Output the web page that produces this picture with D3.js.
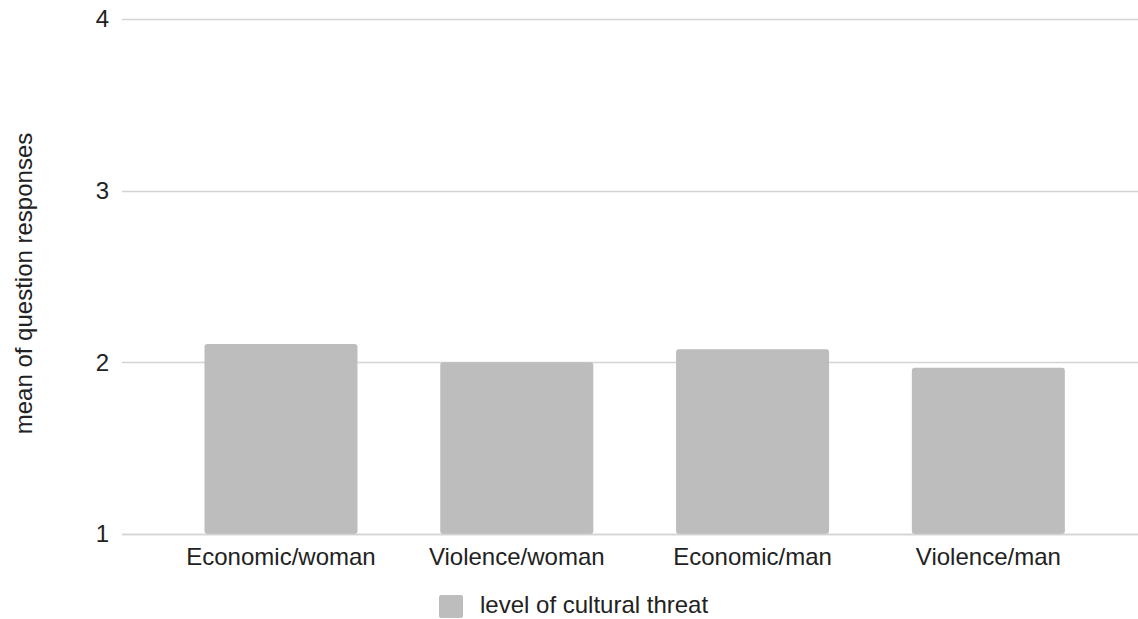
<!DOCTYPE html>
<html>
<head>
<meta charset="utf-8">
<script src="https://cdn.jsdelivr.net/npm/d3@7"></script>
<style>
  html, body { margin: 0; padding: 0; background: #fff; }
  svg { display: block; font-family: Arial, "Liberation Sans", Helvetica, sans-serif; }
</style>
</head>
<body>
<svg id="chart" width="1138" height="619"></svg>
<script>
// Mean question responses by scenario
const categories = ["Economic/woman", "Violence/woman", "Economic/man", "Violence/man"];
const values = [2.107, 2.0, 2.076, 1.969];
const yTicks = [1, 2, 3, 4];
const seriesName = "level of cultural threat";
const yTitle = "mean of question responses";

const svg = d3.select("#chart");
const plotLeft = 122, plotRight = 1138, plotTop = 19, plotBottom = 534;
const barColor = "#bdbdbd";
const gridColor = "#d4d4d4";
const textColor = "#222";
const fontSize = 24;

const x = d3.scaleBand()
  .domain(categories)
  .range([plotLeft, plotRight])
  .paddingInner(0.351)
  .paddingOuter(0.33)
  .align(0.53);

const y = d3.scaleLinear()
  .domain([1, 4])
  .range([plotBottom, plotTop]);

// horizontal gridlines
svg.append("g")
  .selectAll("line")
  .data(yTicks)
  .join("line")
  .attr("x1", plotLeft)
  .attr("x2", plotRight)
  .attr("y1", d => Math.round(y(d)) + 0.5)
  .attr("y2", d => Math.round(y(d)) + 0.5)
  .attr("stroke", gridColor)
  .attr("stroke-width", 1.5);

// y tick labels
svg.append("g")
  .selectAll("text")
  .data(yTicks)
  .join("text")
  .attr("x", 109)
  .attr("y", d => y(d))
  .attr("dy", "0.35em")
  .attr("text-anchor", "end")
  .attr("font-size", fontSize)
  .attr("fill", textColor)
  .text(d => d);

// bars
svg.append("g")
  .selectAll("rect")
  .data(categories)
  .join("rect")
  .attr("x", d => x(d))
  .attr("width", x.bandwidth())
  .attr("y", (d, i) => y(values[i]))
  .attr("height", (d, i) => y(1) - y(values[i]))
  .attr("rx", 3)
  .attr("fill", barColor);

// baseline redrawn over bar bottoms
svg.append("line")
  .attr("x1", plotLeft).attr("x2", plotRight)
  .attr("y1", Math.round(y(1)) + 0.5).attr("y2", Math.round(y(1)) + 0.5)
  .attr("stroke", gridColor)
  .attr("stroke-width", 1.5);

// x category labels
svg.append("g")
  .selectAll("text")
  .data(categories)
  .join("text")
  .attr("x", d => x(d) + x.bandwidth() / 2)
  .attr("y", 565)
  .attr("text-anchor", "middle")
  .attr("font-size", fontSize)
  .attr("fill", textColor)
  .text(d => d);

// y axis title
svg.append("text")
  .attr("transform", `translate(32, ${(plotTop + plotBottom) / 2 + 7}) rotate(-90)`)
  .attr("text-anchor", "middle")
  .attr("font-size", fontSize)
  .attr("fill", textColor)
  .text(yTitle);

// legend
const legend = svg.append("g");
legend.append("rect")
  .attr("x", 439).attr("y", 595)
  .attr("width", 24).attr("height", 23)
  .attr("rx", 2)
  .attr("fill", barColor);
legend.append("text")
  .attr("x", 480).attr("y", 613)
  .attr("font-size", fontSize)
  .attr("fill", textColor)
  .text(seriesName);
</script>
</body>
</html>
